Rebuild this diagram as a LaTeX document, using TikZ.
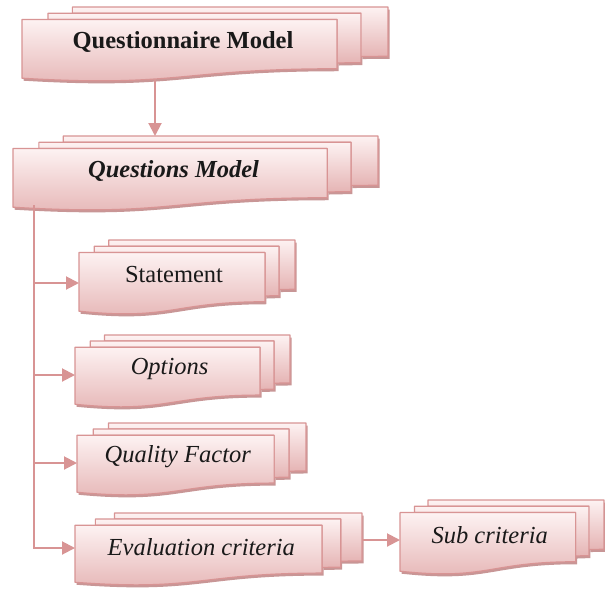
\documentclass[tikz,border=0pt]{standalone}
\usepackage{fontspec}
\setmainfont{Liberation Serif}
\usetikzlibrary{arrows.meta}
\definecolor{docline}{RGB}{216,148,148}
\definecolor{doctop}{RGB}{253,242,242}
\definecolor{docbot}{RGB}{229,180,180}
\definecolor{docshadow}{RGB}{200,150,150}
\tikzset{
  doclayer/.style={top color=doctop, bottom color=docbot, draw=docline, line width=1.2pt, line join=round},
  docshade/.style={fill=docshadow, draw=none},
  doctext/.style={font=\fontsize{24.5}{28}\selectfont, inner sep=0pt, text=black!90},
  conn/.style={draw=docline, line width=2pt, -{Triangle[length=13pt,width=13pt]}},
  trunkline/.style={draw=docline, line width=2pt},
}
\newcommand\mdfront[1]{\path[#1] (0,207.82) .. controls (92.98,235.42) and (92.98,180.22) .. (185.95,180.22) -- (185.95,36.75) -- (0,36.75) -- cycle;}
\newcommand\mdmid[1]{\path[#1] (15.32,36.75) -- (15.32,18.15) -- (200,18.15) -- (200,162.52) .. controls (192.98,162.52) and (185.95,163.52) .. (185.95,163.52) -- (185.95,36.75) -- cycle;}
\newcommand\mdback[1]{\path[#1] (29.72,18.15) -- (29.72,0) -- (216,0) -- (216,143.92) .. controls (208,143.92) and (200,144.67) .. (200,144.67) -- (200,18.15) -- cycle;}
\newcommand\multidoc[6]{%
  \pgfmathsetmacro\mdxu{#3/216}\pgfmathsetmacro\mdyu{#4/216}%
  \begin{scope}[shift={(#1,#2)}, x=\mdxu pt, y=-\mdyu pt]
    \begin{scope}[shift={(1.5pt,-2.5pt)}]
      \mdback{docshade}\mdmid{docshade}\mdfront{docshade}
    \end{scope}
    \mdback{doclayer}\mdmid{doclayer}\mdfront{doclayer}
  \end{scope}
  \node[doctext] (#5) at ({#1+0.44*#3},{#2+0.47*#4}) {#6};
}
\begin{document}
\begin{tikzpicture}[x=1pt, y=-1pt]
\useasboundingbox (0,0) rectangle (605,592);
\fill[white] (0,0) rectangle (605,592);

\multidoc{22}{7}{366}{74}{qn}{\textbf{Questionnaire Model}}
\multidoc{13}{136}{365}{74}{qs}{\textbf{\textit{Questions Model}}}
\multidoc{79}{240}{216}{74}{st}{Statement}
\multidoc{75}{335}{215}{72}{op}{\textit{Options}}
\multidoc{77}{423}{229}{72}{qf}{\textit{Quality Factor}}
\multidoc{75}{513}{287}{72}{ev}{\textit{Evaluation criteria}}
\multidoc{400}{500}{204}{74}{sc}{\textit{Sub criteria}}

\coordinate (qn-out) at (155,79);
\coordinate (qs-in) at (155,136);
\coordinate (qs-out) at (34,205);
\coordinate (st-in) at (79,283);
\coordinate (op-in) at (75,375);
\coordinate (qf-in) at (77,463);
\coordinate (ev-in) at (75,548);
\coordinate (ev-out) at (362,540);
\coordinate (sc-in) at (400,540);

\draw[conn] (qn-out) -- (qs-in);
\draw[conn] (qs-out) |- (ev-in);
\draw[conn] (qs-out |- st-in) -- (st-in);
\draw[conn] (qs-out |- op-in) -- (op-in);
\draw[conn] (qs-out |- qf-in) -- (qf-in);
\draw[conn] (ev-out) -- (sc-in);
\end{tikzpicture}
\end{document}
